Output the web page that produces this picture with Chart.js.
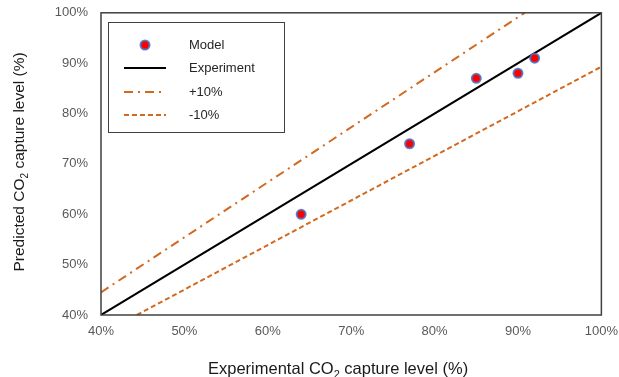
<!DOCTYPE html>
<html>
<head>
<meta charset="utf-8">
<script src="https://cdn.jsdelivr.net/npm/chart.js@4"></script>
<style>
  html, body { margin: 0; padding: 0; background: #fff; }
  #wrap { width: 619px; height: 377px; }
</style>
</head>
<body>
<div id="wrap"><canvas id="chart" width="619" height="377"></canvas></div>
<script>
// data (%)
const modelX = [64, 77, 85, 90, 92];
const modelY = [60, 74, 87, 88, 91];
const expX = [40, 100];
const expY = [40, 100];
const plusX = [40, 90.8];
const plusY = [44.5, 100];
const minusX = [44.3, 100];
const minusY = [40, 89.3];
const tickValues = [40, 50, 60, 70, 80, 90, 100];
const legendLabels = ["Model", "Experiment", "+10%", "-10%"];
const xTitle = ["Experimental CO", "2", " capture level (%)"];
const yTitle = ["Predicted CO", "2", " capture level (%)"];

const orange = "#D2691E";
const fontFam = "'Liberation Sans', Arial, sans-serif";
const toPoints = (xs, ys) => xs.map((x, i) => ({ x: x, y: ys[i] }));

// draws "CO" + subscript 2 + rest, starting at x=0 on the baseline
function subTitle(ctx, parts, size, align) {
    const big = size + "px " + fontFam;
    const small = Math.round(size * 0.65) + "px " + fontFam;
    ctx.font = big;
    const w0 = ctx.measureText(parts[0]).width;
    const w2 = ctx.measureText(parts[2]).width;
    ctx.font = small;
    const w1 = ctx.measureText(parts[1]).width;
    let x = align === "center" ? -(w0 + w1 + w2) / 2 : 0;
    ctx.font = big;
    ctx.fillText(parts[0], x, 0);
    x += w0;
    ctx.font = small;
    ctx.fillText(parts[1], x, size * 0.25);
    x += w1;
    ctx.font = big;
    ctx.fillText(parts[2], x, 0);
}

// plot frame, legend box and axis titles
const framePlugin = {
    id: "frame",
    afterDraw(chart) {
        const { ctx, chartArea: a } = chart;
        ctx.save();
        ctx.strokeStyle = "#404040";
        ctx.lineWidth = 1.5;
        ctx.strokeRect(a.left, a.top, a.right - a.left, a.bottom - a.top);

        // axis titles
        ctx.fillStyle = "#1a1a1a";
        ctx.textBaseline = "alphabetic";
        ctx.save();
        ctx.translate(208, 374);
        subTitle(ctx, xTitle, 16.5, "left");
        ctx.restore();
        ctx.save();
        ctx.translate(24, (a.top + a.bottom) / 2 - 2);
        ctx.rotate(-Math.PI / 2);
        subTitle(ctx, yTitle, 15.5, "center");
        ctx.restore();

        // legend
        const bx = 108, by = 22, bw = 176, bh = 110;
        ctx.fillStyle = "#fff";
        ctx.fillRect(bx, by, bw, bh);
        ctx.strokeStyle = "#404040";
        ctx.lineWidth = 1;
        ctx.strokeRect(bx + 0.5, by + 0.5, bw, bh);

        const rows = [45, 68, 92, 115];
        const sx1 = 124, sx2 = 166, tx = 189;
        ctx.font = "13px " + fontFam;
        ctx.fillStyle = "#262626";
        ctx.textBaseline = "middle";
        legendLabels.forEach((t, i) => ctx.fillText(t, tx, rows[i]));

        // model marker
        ctx.beginPath();
        ctx.arc(145, rows[0], 4.5, 0, Math.PI * 2);
        ctx.fillStyle = "#FF0000";
        ctx.fill();
        ctx.lineWidth = 2;
        ctx.strokeStyle = "rgba(68,114,196,0.85)";
        ctx.stroke();

        const seg = (y, color, dash) => {
            ctx.beginPath();
            ctx.setLineDash(dash);
            ctx.strokeStyle = color;
            ctx.lineWidth = 2;
            ctx.moveTo(sx1, y);
            ctx.lineTo(sx2, y);
            ctx.stroke();
        };
        seg(rows[1], "#000", []);
        seg(rows[2], orange, [9, 5, 2, 5]);
        seg(rows[3], orange, [5, 3]);
        ctx.restore();
    }
};

const tickFont = { family: fontFam, size: 13 };

new Chart(document.getElementById("chart"), {
    type: "scatter",
    data: {
        datasets: [
            {
                label: legendLabels[0],
                data: toPoints(modelX, modelY),
                backgroundColor: "#FF0000",
                borderColor: "rgba(68,114,196,0.85)",
                borderWidth: 2,
                pointRadius: 4.5,
                order: 0
            },
            {
                label: legendLabels[1],
                data: toPoints(expX, expY),
                showLine: true,
                borderColor: "#000",
                borderWidth: 2,
                pointRadius: 0,
                order: 1
            },
            {
                label: legendLabels[2],
                data: toPoints(plusX, plusY),
                showLine: true,
                borderColor: orange,
                borderWidth: 2,
                borderDash: [9, 5, 2, 5],
                pointRadius: 0,
                order: 2
            },
            {
                label: legendLabels[3],
                data: toPoints(minusX, minusY),
                showLine: true,
                borderColor: orange,
                borderWidth: 2,
                borderDash: [5, 3],
                pointRadius: 0,
                order: 3
            }
        ]
    },
    options: {
        responsive: false,
        animation: false,
        layout: { padding: { top: 9, right: 10, left: 0, bottom: 0 } },
        plugins: {
            legend: { display: false },
            tooltip: { enabled: false }
        },
        scales: {
            x: {
                type: "linear",
                min: 40,
                max: 100,
                afterBuildTicks: (s) => { s.ticks = tickValues.map(v => ({ value: v })); },
                afterFit: (s) => { s.height = 62; },
                grid: { display: false },
                border: { display: false },
                ticks: {
                    color: "#595959",
                    font: tickFont,
                    padding: 1,
                    callback: (v) => v + "%"
                }
            },
            y: {
                type: "linear",
                min: 40,
                max: 100,
                afterBuildTicks: (s) => { s.ticks = tickValues.map(v => ({ value: v })); },
                afterFit: (s) => { s.width = 101; },
                grid: { display: false },
                border: { display: false },
                ticks: {
                    color: "#595959",
                    font: tickFont,
                    padding: 5,
                    callback: (v) => v + "%"
                }
            }
        }
    },
    plugins: [framePlugin]
});
</script>
</body>
</html>
